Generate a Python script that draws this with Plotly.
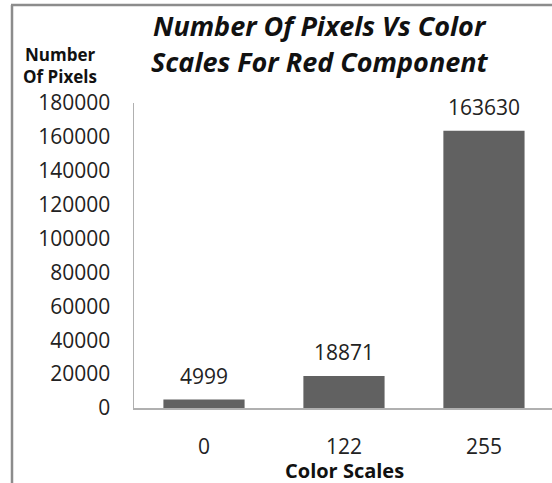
import plotly.graph_objects as go

categories = ["0", "122", "255"]
pixel_counts = [4999, 18871, 163630]
y_ticks = [0, 20000, 40000, 60000, 80000, 100000, 120000, 140000, 160000, 180000]

title_lines = ["Number Of Pixels Vs Color", "Scales For Red Component"]
y_title_lines = ["Number", "Of Pixels"]
x_title = "Color Scales"

FONT = "Open Sans"
W, H = 552, 483
L, R, T, B = 134, 0, 103, 75
pw, ph = W - L - R, H - T - B

def px_x(x):
    return (x - L) / pw

def px_y(y):
    return (H - B - y) / ph

fig = go.Figure()
fig.add_trace(go.Bar(
    x=categories, y=pixel_counts,
    marker=dict(color="#616161", line=dict(width=0)),
    width=0.58, hoverinfo="skip",
))

annotations = []
for i, v in enumerate(pixel_counts):
    annotations.append(dict(
        x=i, y=v, xref="x", yref="y", text=str(v), showarrow=False,
        yshift=24, font=dict(family=FONT, size=21, color="#222222"),
    ))
for line, yc in zip(title_lines, [25, 62]):
    annotations.append(dict(
        x=px_x(320), y=px_y(yc), xref="paper", yref="paper", text=f"<b><i>{line}</i></b>",
        showarrow=False, xanchor="center", yanchor="middle",
        font=dict(family=FONT, size=27, color="#111111"),
    ))
for line, yc in zip(y_title_lines, [54, 77]):
    annotations.append(dict(
        x=px_x(60), y=px_y(yc), xref="paper", yref="paper", text=f"<b>{line}</b>",
        showarrow=False, xanchor="center", yanchor="middle",
        font=dict(family=FONT, size=17, color="#111111"),
    ))
annotations.append(dict(
    x=px_x(344), y=px_y(470), xref="paper", yref="paper", text=f"<b>{x_title}</b>",
    showarrow=False, xanchor="center", yanchor="middle",
    font=dict(family=FONT, size=20, color="#111111"),
))

shapes = [
    dict(type="line", xref="paper", yref="paper", x0=px_x(12), x1=px_x(12), y0=px_y(5), y1=px_y(H + 5),
         line=dict(color="#8c8c8c", width=2.5)),
    dict(type="line", xref="paper", yref="paper", x0=px_x(11), x1=px_x(W + 5), y0=px_y(5), y1=px_y(5),
         line=dict(color="#8c8c8c", width=2.5)),
]

fig.update_layout(
    width=W, height=H,
    margin=dict(l=L, r=R, t=T, b=B, pad=0),
    paper_bgcolor="white", plot_bgcolor="white",
    showlegend=False, hovermode=False,
    annotations=annotations,
    shapes=shapes,
    xaxis=dict(
        type="category", range=[-0.5, 2.486],
        showline=True, linecolor="#b0b0b0", linewidth=1.5,
        showgrid=False, zeroline=False, fixedrange=True,
        ticks="outside", ticklen=19, tickcolor="rgba(0,0,0,0)",
        tickfont=dict(family=FONT, size=21, color="#222222"),
    ),
    yaxis=dict(
        range=[0, 180000], tickvals=y_ticks, ticktext=[str(t) for t in y_ticks],
        showline=True, linecolor="#b0b0b0", linewidth=1.5,
        showgrid=False, zeroline=False, fixedrange=True,
        ticks="outside", ticklen=18, tickcolor="rgba(0,0,0,0)",
        tickfont=dict(family=FONT, size=21, color="#222222"),
    ),
    bargap=0.42,
)

fig.write_html(
    "out.html",
    config={"displayModeBar": False, "staticPlot": True},
    post_script="document.body.style.margin='0';document.documentElement.style.overflow='hidden';document.body.style.overflow='hidden';",
)
